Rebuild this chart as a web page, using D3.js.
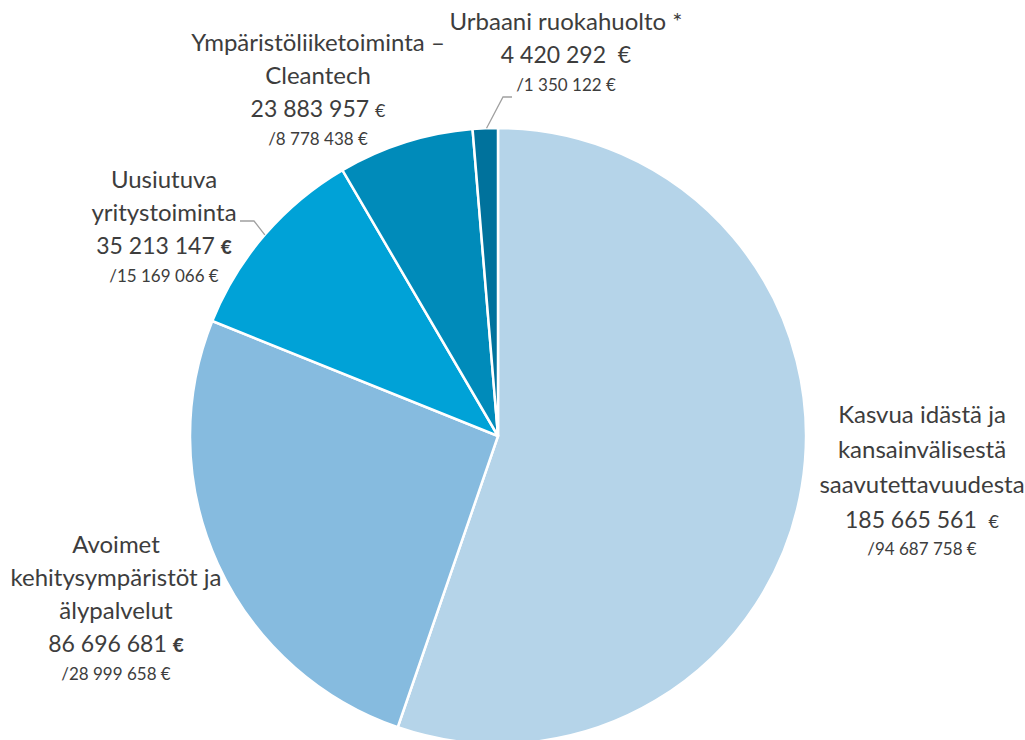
<!DOCTYPE html>
<html>
<head>
<meta charset="utf-8">
<script src="https://cdn.jsdelivr.net/npm/d3@7"></script>
<style>
  body { margin: 0; background: #fff; }
  svg text { font-family: Lato, "Noto Sans", sans-serif; fill: #3d3d3d; }
</style>
</head>
<body>
<div id="chart"></div>
<script>
// data
const categories = [
  ["Kasvua idästä ja", "kansainvälisestä", "saavutettavuudesta"],
  ["Avoimet", "kehitysympäristöt ja", "älypalvelut"],
  ["Uusiutuva", "yritystoiminta"],
  ["Ympäristöliiketoiminta –", "Cleantech"],
  ["Urbaani ruokahuolto *"]
];
const totals = [185665561, 86696681, 35213147, 23883957, 4420292];
const funding = [94687758, 28999658, 15169066, 8778438, 1350122];

const colors = ["#b5d4e9", "#86bbdf", "#00a2d7", "#008bba", "#00729c"];

// label placement (center x, first line y) and euro-sign styles
const labelPos = [
  {x: 922, y: 415, euro: "small2"},
  {x: 116, y: 545, euro: "bold"},
  {x: 164, y: 180, euro: "bold"},
  {x: 318, y: 43,  euro: "small"},
  {x: 566, y: 22,  euro: "full"}
];

const width = 1025, height = 740;
const cx = 498, cy = 436, r = 308;

const svg = d3.select("#chart").append("svg")
  .attr("width", width).attr("height", height);

const pie = d3.pie().sort(null).value(d => d)(totals);
const arc = d3.arc().innerRadius(0).outerRadius(r);

const g = svg.append("g").attr("transform", `translate(${cx},${cy})`);
g.selectAll("path")
  .data(pie)
  .enter().append("path")
  .attr("d", arc)
  .attr("fill", (d, i) => colors[i])
  .attr("stroke", "#fff")
  .attr("stroke-width", 2.5)
  .attr("stroke-linejoin", "round");

const fmt = d3.formatLocale({thousands: " ", grouping: [3], decimal: ",", currency: ["", " €"]}).format(",d");

// leader lines (uusiutuva, urbaani)
const leader = d3.line();
function edgePoint(i, frac) {
  const d = pie[i];
  const a = d.startAngle + (d.endAngle - d.startAngle) * frac;
  return [cx + Math.sin(a) * r, cy - Math.cos(a) * r];
}
const pU = edgePoint(2, 0.5);
svg.append("path")
  .attr("d", leader([[240, 221], [254, 221], pU]))
  .attr("fill", "none").attr("stroke", "#a0a0a0").attr("stroke-width", 1.3);
const pR = edgePoint(4, 0.55);
svg.append("path")
  .attr("d", leader([[512, 97], [503, 97], pR]))
  .attr("fill", "none").attr("stroke", "#a0a0a0").attr("stroke-width", 1.3);

// labels
categories.forEach((lines, i) => {
  const p = labelPos[i];
  const t = svg.append("text").attr("text-anchor", "middle");
  let y = p.y;
  lines.forEach((ln, k) => {
    t.append("tspan").attr("x", p.x).attr("y", y).attr("dy", "0.35em")
      .style("font-size", "24px").text(ln);
    y += (i === 0 ? 35 : 33);
  });
  const vt = t.append("tspan").attr("x", p.x).attr("y", y).attr("dy", "0.35em")
    .style("font-size", "23px");
  vt.append("tspan").text(fmt(totals[i]) + (p.euro === "full" || p.euro === "small2" ? "\u00a0\u00a0" : "\u00a0"));
  const eu = vt.append("tspan").text("€");
  if (p.euro === "small" || p.euro === "small2") eu.style("font-size", "18px");
  if (p.euro === "bold") eu.style("font-size", "19px").style("font-weight", "900");
  y += (i === 0 ? 29 : 30);
  t.append("tspan").attr("x", p.x).attr("y", y).attr("dy", "0.35em")
    .style("font-size", "17px").text("/" + fmt(funding[i]) + " €");
});
</script>
</body>
</html>
